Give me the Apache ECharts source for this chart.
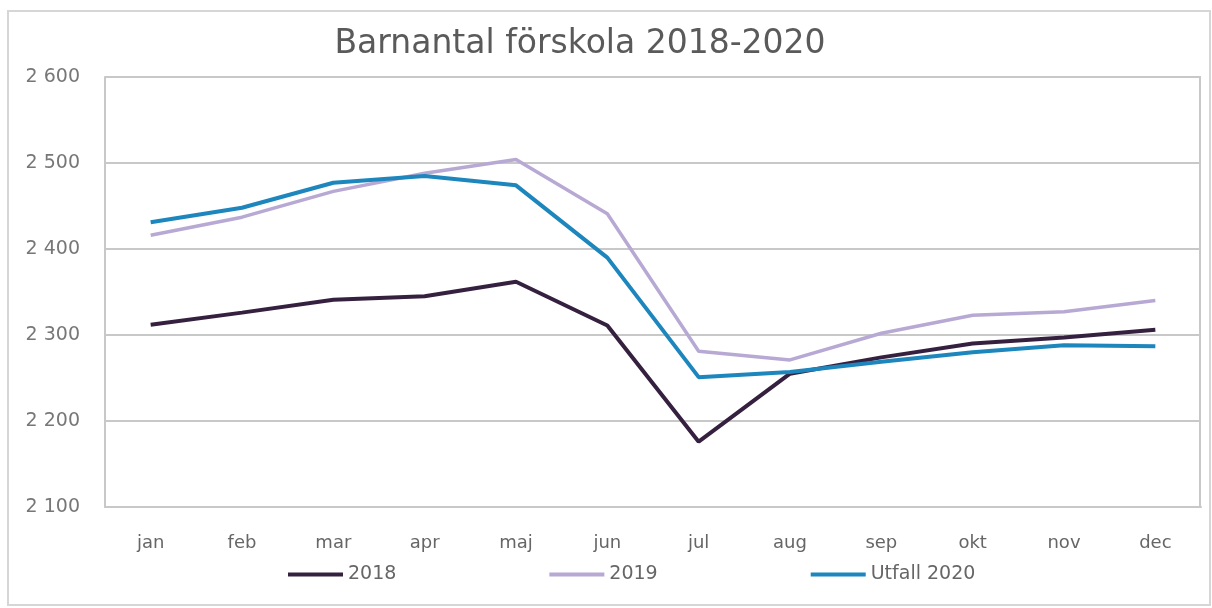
<!DOCTYPE html>
<html>
<head>
<meta charset="utf-8">
<script src="https://cdn.jsdelivr.net/npm/echarts@6/dist/echarts.min.js"></script>
<style>
	html, body { margin: 0; padding: 0; background: #fff; }
	#chart { width: 1212px; height: 608px; }
</style>
</head>
<body>
<div id="chart"></div>
<script>
// månader
const months = ["jan", "feb", "mar", "apr", "maj", "jun", "jul", "aug", "sep", "okt", "nov", "dec"];
const yTicks = [2100, 2200, 2300, 2400, 2500, 2600];
const names = ["2018", "2019", "Utfall 2020"];
// barnantal per månad
const data2018 = [2312, 2326, 2341, 2345, 2362, 2311, 2176, 2255, 2274, 2290, 2297, 2306];
const data2019 = [2416, 2437, 2467, 2488, 2504, 2441, 2281, 2271, 2302, 2323, 2327, 2340];
const data2020 = [2431, 2448, 2477, 2485, 2474, 2390, 2251, 2257, 2269, 2280, 2288, 2287];

const colors = ["#35213f", "#b7a9d3", "#1d86bd"];
const fontFamily = "'DejaVu Sans', sans-serif";

const myChart = echarts.init(document.getElementById("chart"));
const option = {
	animation: false,
	backgroundColor: "#fff",
	title: {
		text: "Barnantal förskola 2018-2020",
		left: 575,
		textAlign: "center",
		top: 23,
		textStyle: { color: "#5a5a5a", fontSize: 33, fontWeight: "normal", fontFamily: fontFamily }
	},
	legend: {
		left: 288,
		top: 565,
		padding: 0,
		itemGap: 153,
		itemWidth: 55,
		itemHeight: 4,
		icon: "rect",
		textStyle: { color: "#666", fontSize: 19, fontFamily: fontFamily },
		data: names
	},
	grid: { left: 105, right: 11, top: 77, bottom: 101 },
	xAxis: {
		type: "category",
		data: months,
		boundaryGap: true,
		axisLine: { show: true, lineStyle: { color: "#c8c8c8", width: 2 } },
		axisTick: { show: false },
		axisLabel: { color: "#666", fontSize: 18, margin: 27, fontFamily: fontFamily }
	},
	yAxis: {
		type: "value",
		min: yTicks[0],
		max: yTicks[yTicks.length - 1],
		interval: 100,
		axisLine: { show: true, lineStyle: { color: "#c8c8c8", width: 2 } },
		axisTick: { show: false },
		splitLine: { show: true, lineStyle: { color: "#c8c8c8", width: 2 } },
		axisLabel: {
			color: "#777",
			fontSize: 19,
			margin: 25,
			fontFamily: fontFamily,
			formatter: v => String(v).replace(/\B(?=(\d{3})+(?!\d))/g, " ")
		}
	},
	graphic: [
		{
			type: "rect",
			shape: { x: 8, y: 11, width: 1202, height: 594 },
			style: { fill: "none", stroke: "#d6d6d6", lineWidth: 2 },
			z: -1
		},
		{
			// höger kant på ritytan
			type: "line",
			shape: { x1: 1200, y1: 77, x2: 1200, y2: 507 },
			style: { stroke: "#c8c8c8", lineWidth: 2 }
		}
	],
	series: [
		{ name: names[0], type: "line", data: data2018, symbol: "none", z: 3, lineStyle: { color: colors[0], width: 4 }, itemStyle: { color: colors[0] } },
		{ name: names[1], type: "line", data: data2019, symbol: "none", z: 2, lineStyle: { color: colors[1], width: 3.5 }, itemStyle: { color: colors[1] } },
		{ name: names[2], type: "line", data: data2020, symbol: "none", z: 4, lineStyle: { color: colors[2], width: 4 }, itemStyle: { color: colors[2] } }
	]
};
myChart.setOption(option);
</script>
</body>
</html>
